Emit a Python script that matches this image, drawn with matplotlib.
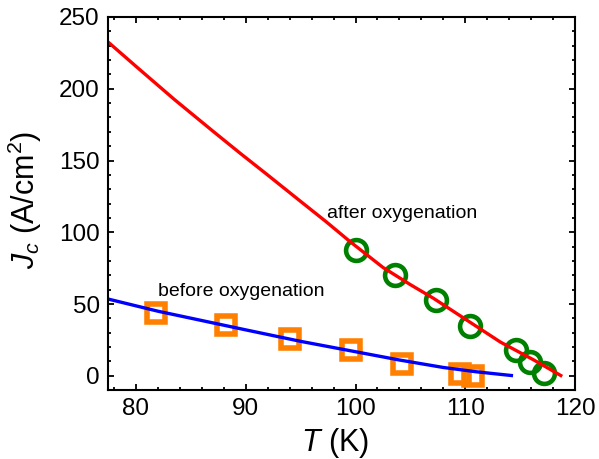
import matplotlib
matplotlib.use("Agg")
import matplotlib.pyplot as plt
from matplotlib.ticker import MultipleLocator

plt.rcParams['font.family'] = ['Liberation Sans', 'DejaVu Sans']
plt.rcParams['mathtext.fontset'] = 'custom'
plt.rcParams['mathtext.rm'] = 'Liberation Sans'
plt.rcParams['mathtext.it'] = 'Liberation Sans:italic'

# fitted curves
t_after_fit = [77.45, 80, 83.5, 87, 89.5, 91.9, 95, 97.3, 99.5, 102.5, 105, 107.1,
               110.4, 113.2, 116.2, 117.5, 118.7]
jc_after_fit = [232.6, 215.6, 192.5, 170.5, 155, 140.5, 121.5, 107.5, 93.5, 75.5, 63.5, 54,
                37.5, 23.5, 11.2, 5.5, 0.2]
t_before_fit = [77.45, 82, 86, 90, 95, 99.5, 104, 108, 111, 114.2]
jc_before_fit = [53.5, 45, 38.5, 32, 24, 17.5, 11, 5.8, 2.8, 0.2]

# measured points
t_before = [81.8, 88.2, 94.0, 99.6, 104.2, 109.5, 110.7]
jc_before = [43.7, 35.1, 25.8, 17.7, 8.4, 1.4, 0.2]
t_after = [100.0, 103.6, 107.3, 110.4, 114.6, 115.9, 117.2]
jc_after = [87.9, 70.2, 53.0, 34.9, 18.1, 9.3, 1.9]

fig = plt.figure(figsize=(5.99, 4.59), dpi=100)
ax = fig.add_axes([0.1803, 0.150, 0.7797, 0.813])

ax.plot(t_before, jc_before, linestyle='none', marker='s', markersize=12.3,
        markerfacecolor='none', markeredgecolor='#ff8000', markeredgewidth=4)
ax.plot(t_after, jc_after, linestyle='none', marker='o', markersize=15,
        markerfacecolor='none', markeredgecolor='#008000', markeredgewidth=3.3)
ax.plot(t_after_fit, jc_after_fit, color='#ff0000', linewidth=2.4)
ax.plot(t_before_fit, jc_before_fit, color='#0000ff', linewidth=2.4)

ax.text(97.38, 110.2, 'after oxygenation', fontsize=14, ha='left', va='baseline')
ax.text(82.03, 55.3, 'before oxygenation', fontsize=14, ha='left', va='baseline')

ax.set_xlim(77.45, 120)
ax.set_ylim(-10, 250)
ax.xaxis.set_major_locator(MultipleLocator(10))
ax.xaxis.set_minor_locator(MultipleLocator(2))
ax.yaxis.set_major_locator(MultipleLocator(50))
ax.yaxis.set_minor_locator(MultipleLocator(10))
ax.tick_params(which='both', direction='in', top=True, right=True, width=1.3)
ax.tick_params(which='major', length=4.3, labelsize=17.5, pad=6)
ax.tick_params(which='minor', length=2.4)
for s in ax.spines.values():
    s.set_linewidth(1.5)

ax.set_xlabel('$T$ (K)', fontsize=22)
ax.xaxis.set_label_coords(0.486, -0.097)
ax.set_ylabel('$J_c$ (A/cm$^2$)', fontsize=22)
ax.yaxis.set_label_coords(-0.137, 0.509)

fig.savefig('out.png', dpi=100)
